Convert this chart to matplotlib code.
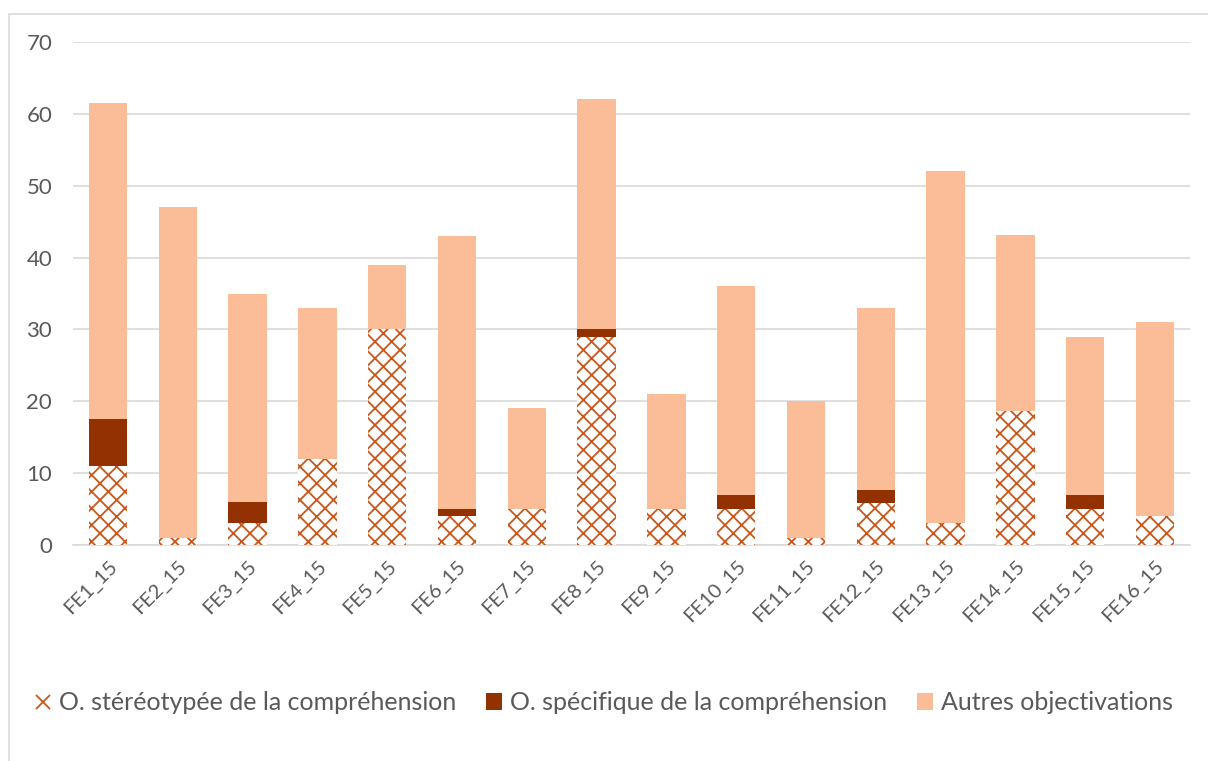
import matplotlib.pyplot as plt
import matplotlib.patches as mpatches
from matplotlib.lines import Line2D
import numpy as np

# categories et valeurs
categories = ['FE1_15', 'FE2_15', 'FE3_15', 'FE4_15', 'FE5_15', 'FE6_15', 'FE7_15', 'FE8_15',
              'FE9_15', 'FE10_15', 'FE11_15', 'FE12_15', 'FE13_15', 'FE14_15', 'FE15_15', 'FE16_15']
stereotypee = [11, 1, 3, 12, 30, 4, 5, 29, 5, 5, 1, 5.8, 3, 18.6, 5, 4]
specifique = [6.5, 0, 3, 0, 0, 1, 0, 1, 0, 2, 0, 1.9, 0, 0, 2, 0]
autres = [44, 46, 29, 21, 9, 38, 14, 32, 16, 29, 19, 25.3, 49, 24.5, 22, 27]

labels = ['O. stéréotypée de la compréhension', 'O. spécifique de la compréhension', 'Autres objectivations']

plt.rcParams['font.family'] = ['Lato', 'DejaVu Sans']
plt.rcParams['hatch.linewidth'] = 1.3

c_hatch = '#C9561A'
c_spec = '#943100'
c_autres = '#FBBC98'
gris = '#595959'

fig = plt.figure(figsize=(12.08, 7.61), dpi=100)
# cadre du graphique
fig.patches.append(mpatches.Rectangle((9 / 1208, -0.1), 1.2, 1 - 14 / 761 + 0.1,
                                      transform=fig.transFigure, fill=False,
                                      edgecolor='#D9D9D9', linewidth=1.2))

ax = fig.add_axes([73 / 1208, 1 - 545 / 761, (1190 - 73) / 1208, (545 - 42) / 761])

x = np.arange(len(categories))
w = 0.55
s = np.array(stereotypee)
p = np.array(specifique)
a = np.array(autres)

ax.bar(x, s, w, color='white', edgecolor=c_hatch, hatch='xx', linewidth=0, zorder=3)
b2 = ax.bar(x, p, w, bottom=s, color=c_spec, linewidth=0, zorder=3)
b3 = ax.bar(x, a, w, bottom=s + p, color=c_autres, linewidth=0, zorder=3)

ax.set_xlim(-0.5, len(categories) - 0.5)
ax.set_ylim(0, 70)
ax.set_yticks(range(0, 71, 10))
ax.yaxis.grid(True, color='#D9D9D9', linewidth=1.2, zorder=0)
ax.set_axisbelow(True)
for sp in ['top', 'right', 'left']:
    ax.spines[sp].set_visible(False)
ax.spines['bottom'].set_color('#D9D9D9')
ax.spines['bottom'].set_linewidth(1.2)
ax.tick_params(axis='both', length=0, colors=gris)
ax.tick_params(axis='y', pad=15, labelsize=16)
ax.tick_params(axis='x', pad=9, labelsize=14.5)
ax.set_xticks(x)
ax.set_xticklabels(categories, rotation=45, ha='right', rotation_mode='anchor')

# petite croix pour la légende des barres hachurées
h1 = Line2D([], [], linestyle='none', marker='x', markersize=10, markeredgewidth=1.3,
            color=c_hatch)

fig.legend(handles=[h1, b2, b3], labels=labels, loc='center', bbox_to_anchor=(0.5, 1 - 703 / 761),
           ncol=3, frameon=False, fontsize=18, labelcolor=gris, handlelength=0.65,
           handleheight=0.65, handletextpad=0.3, columnspacing=1.2)

fig.savefig('out.png', dpi=100)
